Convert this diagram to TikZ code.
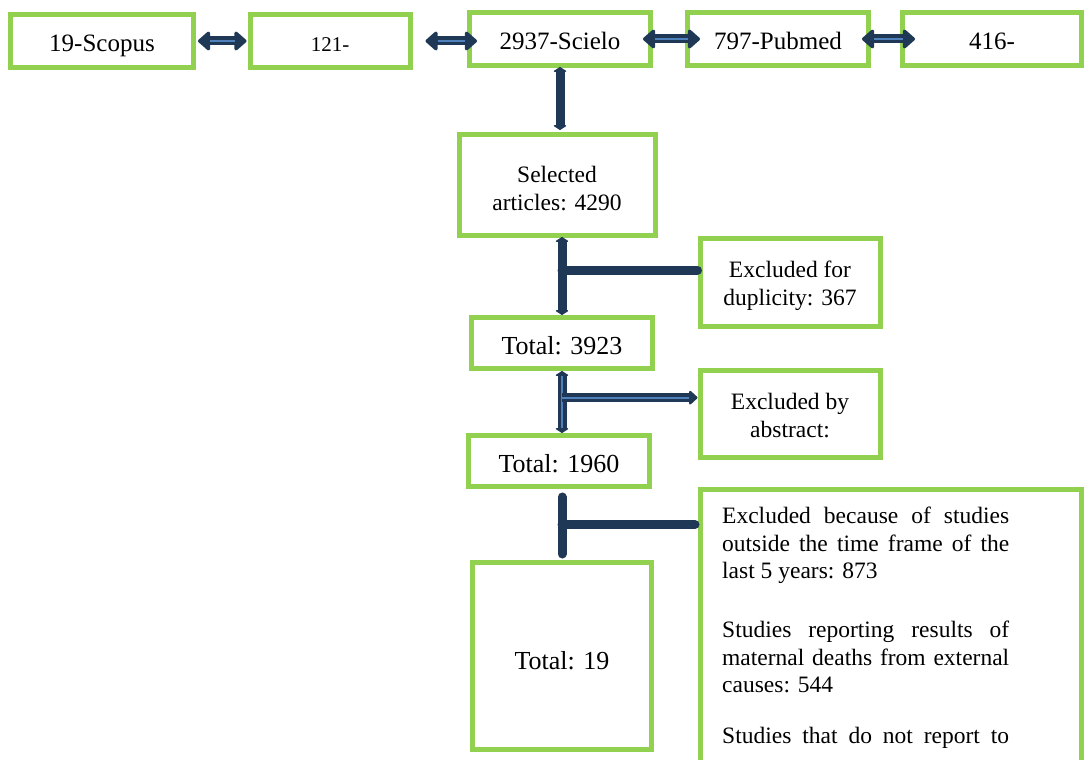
\documentclass[tikz,border=0pt]{standalone}
\usepackage{fontspec}
\setmainfont{Liberation Serif}
\usetikzlibrary{arrows.meta,calc}
\definecolor{boxgreen}{HTML}{92D050}
\definecolor{linknavy}{HTML}{1F3855}
\definecolor{linkblue}{HTML}{4F81BD}

\begin{document}
\begin{tikzpicture}[x=1pt,y=-1pt,
  box/.style={draw=boxgreen, line width=5pt, fill=white, inner sep=0pt, align=center},
  src/.style={box, minimum width=181pt, minimum height=53pt, text height=22pt, text depth=0pt, font=\fontsize{25}{28}\selectfont},
  tot/.style={box, minimum width=181pt, minimum height=51pt, text height=22pt, text depth=0pt, font=\fontsize{26}{29}\selectfont},
  excl/.style={box, minimum width=180pt, text depth=0pt, font=\fontsize{23.5}{28}\selectfont},
  link/.style={draw=linknavy, line width=9pt, line cap=round},
  dlink/.style={draw=linknavy, line width=9pt, {Triangle[length=13pt,width=22pt,round]}-{Triangle[length=13pt,width=22pt,round]}},
  tips/.style={draw=linknavy, line width=9pt, {Triangle[length=5pt,width=15pt,round]}-{Triangle[length=5pt,width=15pt,round]}},
  core/.style={draw=linkblue, line width=2pt}]

\useasboundingbox (0,0) rectangle (1085,760);
\clip (0,0) rectangle (1085,760);

% data bases
\node[src, minimum width=183pt] (scopus) at (102,41) {19-Scopus};
\node[src, minimum width=160pt, font=\fontsize{21}{24}\selectfont] (base121) at (330,41) {121-};
\node[src] (scielo) at (560,39) {2937-Scielo};
\node[src] (pubmed) at (778,39) {797-Pubmed};
\node[src, minimum width=179pt] (base416) at (992,39) {416-};

\foreach \a/\b/\p/\q in {scopus/base121/2/-1, base121/scielo/13/10, scielo/pubmed/-10/15, pubmed/base416/-9/15} {
  \draw[dlink] ([xshift=\p pt]\a.east) -- ([xshift=\q pt]\a.east -| \b.west);
  \draw[core] ([xshift=\p pt+12pt]\a.east) -- ([xshift=\q pt-12pt]\a.east -| \b.west);
}

% screening
\node[box, minimum width=196pt, minimum height=101pt, text height=50pt, text depth=0pt,
  font=\fontsize{23.5}{28}\selectfont] (sel) at (557,185) {Selected\\articles: 4290};
\node[tot] (tot1) at (562,343) {Total: 3923};
\node[tot] (tot2) at (559,461) {Total: 1960};
\node[tot, minimum width=179pt, minimum height=187pt, text height=26pt] (tot3) at (562,656) {Total: 19};

\node[excl, minimum height=88pt, text height=47pt] (dup) at (790,282) {Excluded for\\duplicity: 367};
\node[excl, minimum height=87pt, text height=46pt] (abs) at (790,414) {Excluded by\\abstract:};
\node[box, minimum width=381pt, minimum height=300pt, anchor=north west] (rest) at (698,487) {};
\node[anchor=north west, inner sep=0pt, text width=287pt, align=justify,
  font=\fontsize{23.5}{27.5}\selectfont] (resttxt) at (722,507)
  {Excluded because of studies outside the time frame of the last 5 years: 873\par\vspace{31.5pt}
   Studies reporting results of maternal deaths from external causes: 544\par\vspace{23.5pt}
   \makebox[\linewidth][s]{Studies that do not report to}};

% connectors
\draw[tips, shorten <=-1pt, shorten >=2pt] (scielo.south) -- (scielo.south |- sel.north);

\coordinate (j1) at ($(tot1.north |- sel.south)!.42!(tot1.north)$);
\draw[tips] ([yshift=1pt]tot1.north |- sel.south) -- (tot1.north);
\draw[link] (j1) -- (j1 -| dup.west);

\coordinate (j2) at ($(tot1.south)!.43!(tot1.south |- tot2.north)$);
\draw[tips] (tot1.south) -- (tot1.south |- tot2.north);
\draw[core, shorten <=5pt, shorten >=5pt] (tot1.south) -- (tot1.south |- tot2.north);
\draw[link, line cap=butt, -{Triangle[length=9pt,width=16pt,round]}] (j2) -- (j2 -| abs.west);
\draw[core, shorten >=9pt] (j2) -- (j2 -| abs.west);

\coordinate (j3) at ($(tot2.south -| tot3.north)!.5!(tot3.north)$);
\draw[link, shorten <=8pt, shorten >=6pt] (tot2.south -| tot3.north) -- (tot3.north);
\draw[link, shorten >=3pt] (j3) -- (j3 -| rest.west);
\end{tikzpicture}
\end{document}
